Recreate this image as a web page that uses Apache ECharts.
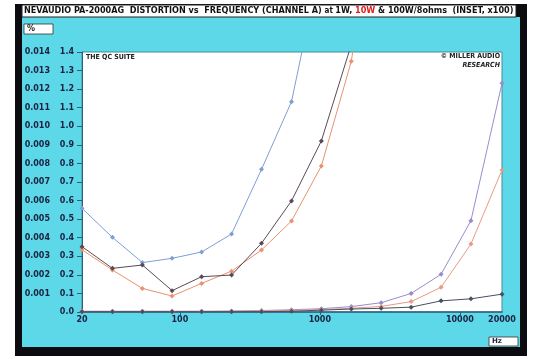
<!DOCTYPE html>
<html>
<head>
<meta charset="utf-8">
<script src="https://cdn.jsdelivr.net/npm/echarts@6/dist/echarts.min.js"></script>
<style>
  html, body { margin: 0; padding: 0; background: #fff; }
  #chart { width: 533px; height: 359px; }
</style>
</head>
<body>
<div id="chart"></div>
<script>
// test frequencies (Hz)
const freqs = [20, 33, 54, 88, 143, 234, 383, 627, 1025, 1677, 2743, 4487, 7340, 12000, 20000];

// inset curves (x100), left scale 0.0 - 1.4
const inset1W = [0.558, 0.402, 0.266, 0.289, 0.323, 0.42, 0.768, 1.132, 1.9];
const inset10W = [0.335, 0.226, 0.127, 0.086, 0.154, 0.22, 0.334, 0.49, 0.786, 1.35, 2.4];
const inset100W = [0.352, 0.235, 0.253, 0.115, 0.19, 0.199, 0.37, 0.598, 0.921, 1.44];

// main curves, same pixel scale (0.000 - 0.014 %)
const main1W = [0.004, 0.004, 0.004, 0.004, 0.004, 0.005, 0.008, 0.012, 0.018, 0.029, 0.05, 0.1, 0.203, 0.492, 1.232];
const main10W = [0.003, 0.003, 0.003, 0.003, 0.003, 0.004, 0.006, 0.009, 0.013, 0.02, 0.03, 0.056, 0.133, 0.366, 0.765];
const main100W = [0.002, 0.002, 0.002, 0.002, 0.002, 0.002, 0.002, 0.004, 0.01, 0.016, 0.02, 0.026, 0.06, 0.071, 0.096];

const xLabels = [20, 100, 1000, 10000, 20000];
const xTicks = [100, 1000, 10000];

function pairs(vals) {
  return vals.map((v, i) => [freqs[i], v]);
}

const labelFont = { color: "#1b2140", fontSize: 8, fontWeight: "bold", fontFamily: "DejaVu Sans" };

let myChart = echarts.init(document.getElementById("chart"));
var option;
option = {
  animation: false,
  backgroundColor: "#ffffff",
  title: {
    left: 24,
    top: 6,
    padding: 0,
    text: "{a|NEVAUDIO PA-2000AG  DISTORTION vs  FREQUENCY (CHANNEL A) }{s|at }{a|1W, }{r|10W}{a| & 100W/8ohms  (INSET, x100)}",
    textStyle: {
      rich: {
        a: { fontSize: 9, fontWeight: "bold", fontFamily: "DejaVu Sans Condensed", color: "#111" },
        s: { fontSize: 8, fontFamily: "DejaVu Sans Condensed", color: "#111" },
        r: { fontSize: 9, fontWeight: "bold", fontFamily: "DejaVu Sans Condensed", color: "#e02020" },
      },
    },
  },
  graphic: [
    { type: "rect", z: -10, silent: true, shape: { x: 15, y: 4, width: 512, height: 352 }, style: { fill: "#0c0c10" } },
    { type: "rect", z: -9, silent: true, shape: { x: 22, y: 17, width: 498, height: 330 }, style: { fill: "#5cd8e8" } },
    { type: "rect", z: -9, silent: true, shape: { x: 22, y: 5, width: 494, height: 12 }, style: { fill: "#ffffff", stroke: "#222", lineWidth: 1 } },
    { type: "rect", z: -8, silent: true, shape: { x: 24, y: 24, width: 29, height: 10 }, style: { fill: "#ffffff", stroke: "#333", lineWidth: 0.8 } },
    { type: "text", silent: true, left: 27, top: 25, style: { text: "%", fontSize: 8, fontWeight: "bold", fontFamily: "DejaVu Sans", fill: "#222" } },
    { type: "rect", z: -8, silent: true, shape: { x: 489, y: 337, width: 29, height: 9 }, style: { fill: "#ffffff", stroke: "#333", lineWidth: 0.8 } },
    { type: "text", silent: true, left: 492, top: 338, style: { text: "Hz", fontSize: 7, fontWeight: "bold", fontFamily: "DejaVu Sans", fill: "#1b2140" } },
    { type: "text", silent: true, left: 86, top: 54, style: { text: "THE QC SUITE", fontSize: 7, fontWeight: "bold", fontFamily: "DejaVu Sans Condensed", fill: "#222" } },
    { type: "text", silent: true, right: 33, top: 53, style: { text: "\u00a9 MILLER AUDIO", fontSize: 7, fontWeight: "bold", fontFamily: "DejaVu Sans Condensed", fill: "#222" } },
    { type: "text", silent: true, right: 33, top: 62, style: { text: "RESEARCH", fontSize: 7, fontWeight: "bold", fontStyle: "italic", fontFamily: "DejaVu Sans Condensed", fill: "#222" } },
  ],
  grid: {
    left: 82,
    top: 52,
    width: 420,
    height: 260,
    show: true,
    backgroundColor: "#ffffff",
    borderColor: "#3f8e98",
    borderWidth: 1,
  },
  xAxis: {
    type: "log",
    logBase: 10,
    min: 20,
    max: 20000,
    axisLine: { onZero: false, lineStyle: { color: "#2f5f80", width: 1.5 } },
    axisTick: { customValues: xTicks, length: 3, lineStyle: { color: "#2f5f80" } },
    minorTick: { show: false },
    splitLine: { show: false },
    axisLabel: Object.assign({ customValues: xLabels, margin: 4, formatter: (v) => String(Math.round(v)) }, labelFont),
  },
  yAxis: [
    {
      type: "value",
      min: 0,
      max: 1.4,
      interval: 0.1,
      axisLine: { show: true, lineStyle: { color: "#2f5f80" } },
      axisTick: { show: true, length: 5, lineStyle: { color: "#2f5f80" } },
      splitLine: { show: false },
      axisLabel: Object.assign({ margin: 8, formatter: (v) => v.toFixed(1) }, labelFont),
    },
    {
      type: "value",
      position: "left",
      min: 0,
      max: 0.014,
      interval: 0.001,
      axisLine: { show: false },
      axisTick: { show: false },
      splitLine: { show: false },
      axisLabel: Object.assign({ margin: 32, formatter: (v) => (v === 0 ? "" : v.toFixed(3)) }, labelFont),
    },
  ],
  series: [
    { name: "1W x100", data: pairs(inset1W), color: "#7f9ed6" },
    { name: "10W x100", data: pairs(inset10W), color: "#e8926e" },
    { name: "100W x100", data: pairs(inset100W), color: "#5b4a55" },
    { name: "1W", data: pairs(main1W), color: "#9a8ccc" },
    { name: "10W", data: pairs(main10W), color: "#e89a86" },
    { name: "100W", data: pairs(main100W), color: "#46505e" },
  ].map((s) => ({
    name: s.name,
    type: "line",
    yAxisIndex: 0,
    data: s.data,
    symbol: "diamond",
    symbolSize: 5,
    clip: true,
    itemStyle: { color: s.color },
    lineStyle: { color: s.color, width: 1 },
  })),
};
option && myChart.setOption(option);
</script>
</body>
</html>
